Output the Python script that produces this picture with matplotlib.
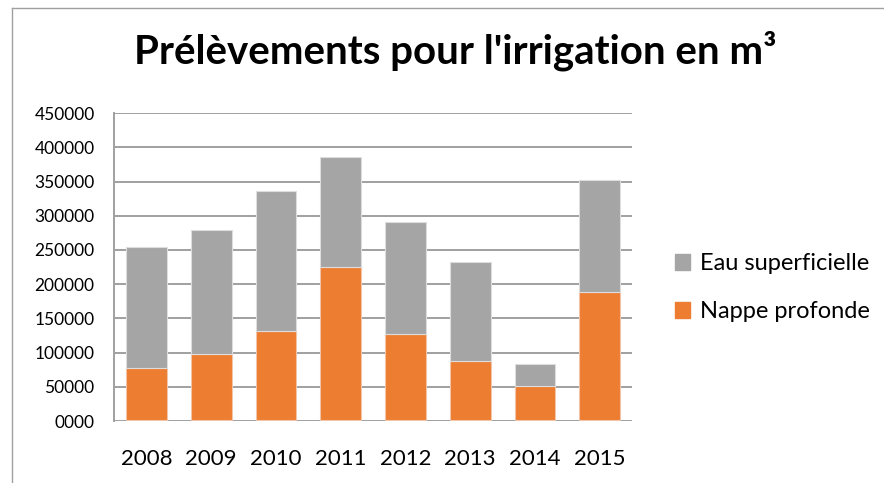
import numpy as np
import matplotlib.pyplot as plt
from matplotlib.patches import Patch
from matplotlib.ticker import FuncFormatter

plt.rcParams['font.family'] = ['Lato', 'DejaVu Sans']

years = ['2008', '2009', '2010', '2011', '2012', '2013', '2014', '2015']
autre = [1500, 1500, 1500, 1500, 1500, 1500, 1500, 1500]
nappe_profonde = [76400, 96500, 129600, 223200, 126100, 85700, 49700, 186600]
eau_superficielle = [176900, 181700, 204700, 160800, 162900, 145300, 32100, 164700]

c_blue = '#4472C4'
c_orange = '#ED7D31'
c_gray = '#A5A5A5'

fig = plt.figure(figsize=(8.84, 4.83), dpi=100)
ax = fig.add_axes([0.129, 0.128, 0.586, 0.638])

x = np.arange(len(years))
w = 0.63
b1 = np.array(autre)
b2 = b1 + np.array(nappe_profonde)
ax.bar(x, autre, w, color=c_blue, edgecolor='none', zorder=3)
ax.bar(x, nappe_profonde, w, bottom=b1, color=c_orange,
       edgecolor='#F2C4A8', linewidth=0.8, zorder=3)
ax.bar(x, eau_superficielle, w, bottom=b2, color=c_gray,
       edgecolor='#DDDDDD', linewidth=0.8, zorder=3)

ax.set_xlim(-0.5, len(years) - 0.5)
ax.set_ylim(0, 450000)
ax.set_yticks(np.arange(0, 450001, 50000))
ax.yaxis.set_major_formatter(FuncFormatter(lambda v, p: f'{int(v):04d}'))
ax.set_xticks(x)
ax.set_xticklabels(years, fontsize=16)
ax.tick_params(axis='y', labelsize=12.5, length=0, pad=14)
ax.tick_params(axis='x', length=0, pad=20)
ax.grid(axis='y', color='#A0A0A0', linewidth=1.4, zorder=0)
for s in ['top', 'right', 'bottom']:
    ax.spines[s].set_visible(False)
ax.spines['left'].set_color('#A0A0A0')
ax.spines['left'].set_linewidth(1.4)

fig.text(0.515, 0.894, "Prélèvements pour l'irrigation en m³",
         ha='center', va='center', fontsize=29, fontweight='bold')

handles = [Patch(color=c_gray, label='Eau superficielle'),
           Patch(color=c_orange, label='Nappe profonde')]
fig.legend(handles=handles, loc='center left', bbox_to_anchor=(0.739, 0.404),
           frameon=False, fontsize=17, handlelength=0.65, handleheight=0.65,
           handletextpad=0.45, labelspacing=1.15)

# chart border lines
fig.add_artist(plt.Line2D([12 / 884, 12 / 884], [0, 1 - 8 / 483],
                          transform=fig.transFigure, color='#A0A0A0', linewidth=1))
fig.add_artist(plt.Line2D([12 / 884, 1], [1 - 8 / 483, 1 - 8 / 483],
                          transform=fig.transFigure, color='#A0A0A0', linewidth=1))

fig.savefig('out.png', dpi=100)
